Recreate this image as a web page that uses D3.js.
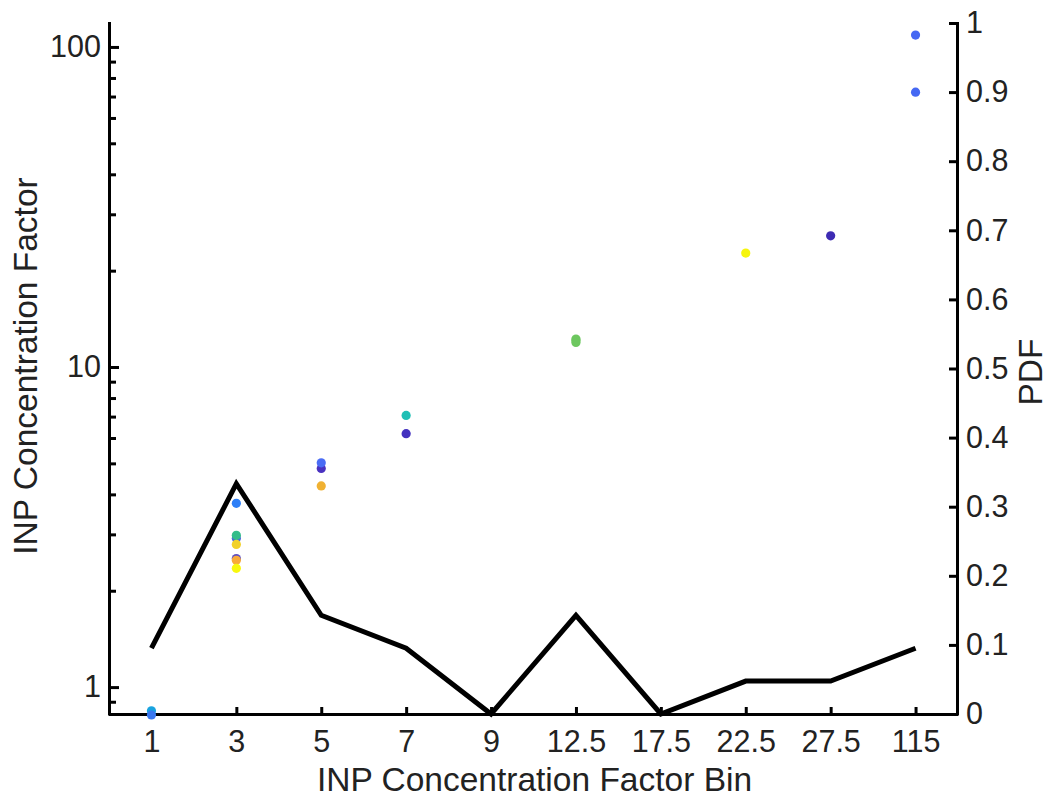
<!DOCTYPE html>
<html>
<head>
<meta charset="utf-8">
<script src="https://cdn.jsdelivr.net/npm/d3@7/dist/d3.min.js"></script>
<style>
  html, body { margin: 0; padding: 0; background: #fff; }
  svg { display: block; }
  text { font-family: "Liberation Sans", Arial, Helvetica, sans-serif; fill: #222; }
</style>
</head>
<body>
<svg id="chart" width="1051" height="799"></svg>
<script>
// Concentration factor bins (categorical x axis)
const bins = ["1", "3", "5", "7", "9", "12.5", "17.5", "22.5", "27.5", "115"];

// Probability density of samples per bin (right axis)
const pdf = [0.0952, 0.3333, 0.1429, 0.0952, 0, 0.1429, 0, 0.0476, 0.0476, 0.0952];

// Individual samples: bin, INP concentration factor (left, log axis), colour
const pointBin = ["1", "1",
  "3", "3", "3", "3", "3", "3", "3",
  "5", "5", "5",
  "7", "7",
  "12.5", "12.5", "12.5",
  "22.5", "27.5", "115", "115"];
const pointFactor = [0.843, 0.818,
  2.92, 2.98, 3.75, 2.79, 2.52, 2.49, 2.35,
  4.82, 5.02, 4.25,
  7.06, 6.19,
  12.23, 12.1, 11.93,
  22.7, 25.7, 108.9, 72.2];
const pointColor = ["#19a3df", "#3a78f0",
  "#4a6ad8", "#33bd8a", "#2d7ff7", "#f2d12a", "#6050c0", "#f8aa3a", "#f8f80e",
  "#4a32c0", "#4a6cf5", "#f0b132",
  "#1fbfb5", "#4331bf",
  "#6dc75f", "#6dc75f", "#6dc75f",
  "#f6f50c", "#3d2bb3", "#4568f3", "#4568f3"];

// Left axis tick values
const leftMajor = [1, 10, 100];
const leftMinor = [0.9, 2, 3, 4, 5, 6, 7, 8, 9, 20, 30, 40, 50, 60, 70, 80, 90];
// Right axis tick values
const rightTicks = [0, 0.1, 0.2, 0.3, 0.4, 0.5, 0.6, 0.7, 0.8, 0.9, 1];

const svg = d3.select("#chart");
const plotLeft = 109, plotRight = 958, plotTop = 23, plotBottom = 714;
const tickFont = 30.5, labelFont = 33.5;

const x = d3.scalePoint().domain(bins).range([plotLeft, plotRight]).padding(0.5);
const yL = d3.scaleLog().domain([0.824, 118.8]).range([plotBottom, plotTop]);
const yR = d3.scaleLinear().domain([0, 1]).range([plotBottom, plotTop]);

function styleAxis(g) {
  g.selectAll("path.domain").attr("stroke", "#000").attr("stroke-width", 3);
  g.selectAll(".tick line").attr("stroke", "#000").attr("stroke-width", 3);
  g.selectAll(".tick text").attr("font-size", tickFont).attr("fill", "#222")
    .attr("font-family", "'Liberation Sans', Arial, Helvetica, sans-serif");
}

// Bottom axis
const gx = svg.append("g").attr("transform", `translate(0,${plotBottom})`)
  .call(d3.axisBottom(x).tickSize(-7).tickSizeOuter(0).tickPadding(16));
gx.select("path.domain").attr("d", `M${plotLeft},0.5H${plotRight}`);
styleAxis(gx);

// Left axis (log) with minor ticks
const gyMinor = svg.append("g").attr("transform", `translate(${plotLeft},0)`)
  .call(d3.axisLeft(yL).tickValues(leftMinor).tickSize(-7).tickFormat(""));
gyMinor.select("path.domain").remove();
styleAxis(gyMinor);

const gy = svg.append("g").attr("transform", `translate(${plotLeft},0)`)
  .call(d3.axisLeft(yL).tickValues(leftMajor).tickSize(-10).tickSizeOuter(0)
    .tickPadding(8).tickFormat(d3.format("d")));
gy.select("path.domain").attr("d", `M0.5,${plotBottom + 1.5}V${plotTop - 1}`);
styleAxis(gy);

// Right axis (PDF)
const gr = svg.append("g").attr("transform", `translate(${plotRight},0)`)
  .call(d3.axisRight(yR).tickValues(rightTicks).tickSize(-9).tickSizeOuter(0)
    .tickPadding(8).tickFormat(d => (d === 0 || d === 1) ? String(d) : d3.format(".1f")(d)));
gr.select("path.domain").attr("d", `M-0.5,${plotBottom + 1.5}V${plotTop - 1}`);
styleAxis(gr);

// PDF line
const line = d3.line()
  .x((d, i) => x(bins[i]))
  .y(d => yR(d));
svg.append("path")
  .datum(pdf)
  .attr("d", line)
  .attr("fill", "none")
  .attr("stroke", "#000")
  .attr("stroke-width", 5)
  .attr("stroke-linejoin", "miter");

// Sample points
svg.append("g").selectAll("circle")
  .data(pointFactor)
  .join("circle")
  .attr("cx", (d, i) => x(pointBin[i]))
  .attr("cy", d => yL(d))
  .attr("r", 4.6)
  .attr("fill", (d, i) => pointColor[i]);

// Axis titles
svg.append("text")
  .attr("x", (plotLeft + plotRight) / 2 + 1)
  .attr("y", 791)
  .attr("text-anchor", "middle")
  .attr("font-size", labelFont)
  .text("INP Concentration Factor Bin");

svg.append("text")
  .attr("transform", "translate(37,366) rotate(-90)")
  .attr("text-anchor", "middle")
  .attr("font-size", labelFont)
  .text("INP Concentration Factor");

svg.append("text")
  .attr("transform", "translate(1042,372) rotate(-90)")
  .attr("text-anchor", "middle")
  .attr("font-size", labelFont)
  .text("PDF");
</script>
</body>
</html>
